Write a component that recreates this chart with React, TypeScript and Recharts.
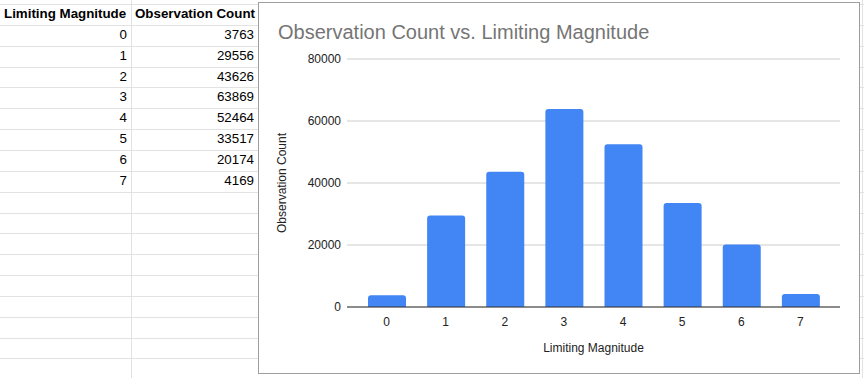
import React from 'react';
import { BarChart, Bar, XAxis, YAxis, CartesianGrid } from 'recharts';

const magnitudes = ['0', '1', '2', '3', '4', '5', '6', '7'];
const counts = [3763, 29556, 43626, 63869, 52464, 33517, 20174, 4169];
const yTicks = [0, 20000, 40000, 60000, 80000];
const headers = ['Limiting Magnitude', 'Observation Count'];

const FONT = '"Liberation Sans", Arial, sans-serif';
const GRID = '#e2e2e2';
const ROW_TOP = 4;
const ROW_H = 20.85;
const ROW_COUNT = 18;
const COL_EDGES = [0, 131, 258];

const data = magnitudes.map((m, i) => ({ name: m, value: counts[i] }));

const Sheet: React.FC = () => {
  const rows = [headers, ...magnitudes.map((m, i) => [m, String(counts[i])])];
  return (
    <div style={{ position: 'absolute', left: 0, top: 0, width: 864, height: 378 }}>
      {Array.from({ length: ROW_COUNT }).map((_, i) => (
        <div
          key={`h-${i}`}
          style={{ position: 'absolute', left: 0, top: Math.round(ROW_TOP + i * ROW_H), width: 864, height: 1, background: GRID }}
        />
      ))}
      {[131, 862].map((x) => (
        <div key={`v-${x}`} style={{ position: 'absolute', left: x, top: 0, width: 1, height: 378, background: GRID }} />
      ))}
      {rows.map((row, r) =>
        row.map((cell, c) => (
          <div
            key={`c-${r}-${c}`}
            style={{
              position: 'absolute',
              left: COL_EDGES[c] + 4,
              width: COL_EDGES[c + 1] - COL_EDGES[c] - 8,
              top: ROW_TOP + r * ROW_H,
              height: ROW_H,
              lineHeight: `${ROW_H}px`,
              fontSize: 13.33,
              fontWeight: r === 0 ? 'bold' : 'normal',
              textAlign: r === 0 ? 'left' : 'right',
              color: '#000',
              whiteSpace: 'nowrap',
            }}
          >
            {cell}
          </div>
        ))
      )}
    </div>
  );
};

export default function App() {
  return (
    <div style={{ position: 'absolute', left: 0, top: 0, width: 864, height: 378, background: '#fff', overflow: 'hidden', fontFamily: FONT }}>
      <Sheet />
      <div
        style={{
          position: 'absolute',
          left: 258,
          top: 2,
          width: 602,
          height: 372,
          border: '1px solid #9e9e9e',
          boxSizing: 'border-box',
          background: '#fff',
        }}
      >
        <div style={{ position: 'absolute', left: 19, top: 19, fontSize: 20, lineHeight: '20px', color: '#757575', whiteSpace: 'nowrap' }}>
          Observation Count vs. Limiting Magnitude
        </div>
        <div style={{ position: 'absolute', left: 0, top: 0 }}>
          <BarChart width={600} height={370} data={data} margin={{ top: 56, right: 19, bottom: 36, left: 28 }}>
            <CartesianGrid vertical={false} stroke="#cccccc" />
            <XAxis
              dataKey="name"
              padding={{ left: 10, right: 10 }}
              axisLine={{ stroke: '#333333' }}
              tickLine={false}
              tickMargin={4}
              height={30}
              tick={{ fill: '#222222', fontSize: 12, fontFamily: FONT }}
              label={{ value: 'Limiting Magnitude', position: 'bottom', offset: 6, fill: '#222222', fontSize: 12, fontFamily: FONT }}
            />
            <YAxis
              domain={[0, 80000]}
              ticks={yTicks}
              width={60}
              axisLine={false}
              tickLine={false}
              tickMargin={0}
              tick={{ fill: '#222222', fontSize: 12, fontFamily: FONT }}
              label={{ value: 'Observation Count', angle: -90, position: 'center', dx: -35, fill: '#222222', fontSize: 12, fontFamily: FONT }}
            />
            <Bar dataKey="value" fill="#4285f4" barSize={38} radius={[3, 3, 0, 0]} isAnimationActive={false} />
          </BarChart>
        </div>
      </div>
    </div>
  );
}
